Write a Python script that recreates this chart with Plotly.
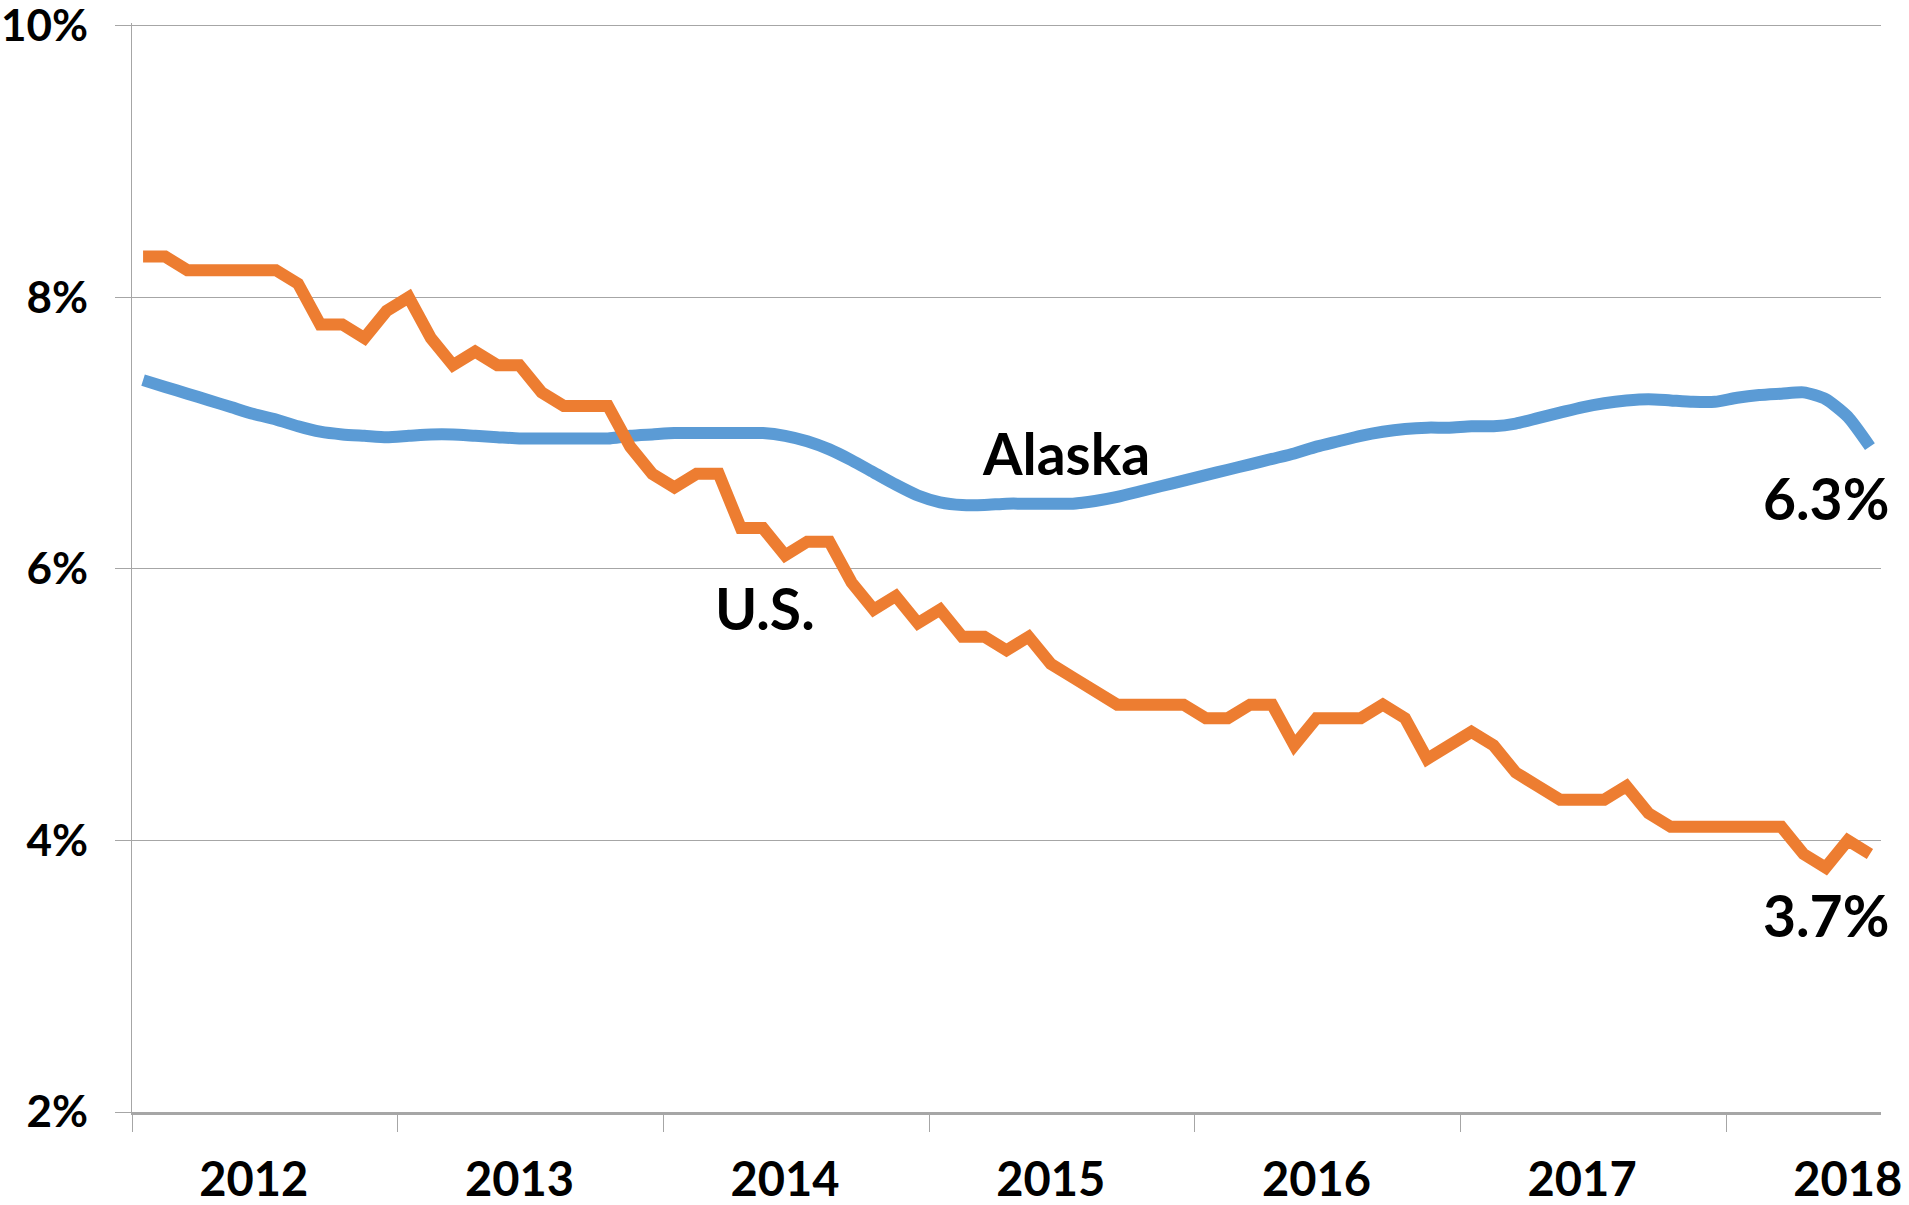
import plotly.graph_objects as go

# Monthly series, Jan 2012 .. Jul 2018 (79 months)
months = list(range(79))
us_rate = [
    8.3, 8.3, 8.2, 8.2, 8.2, 8.2, 8.2, 8.1, 7.8, 7.8, 7.7, 7.9,
    8.0, 7.7, 7.5, 7.6, 7.5, 7.5, 7.3, 7.2, 7.2, 7.2, 6.9, 6.7,
    6.6, 6.7, 6.7, 6.3, 6.3, 6.1, 6.2, 6.2, 5.9, 5.7, 5.8, 5.6,
    5.7, 5.5, 5.5, 5.4, 5.5, 5.3, 5.2, 5.1, 5.0, 5.0, 5.0, 5.0,
    4.9, 4.9, 5.0, 5.0, 4.7, 4.9, 4.9, 4.9, 5.0, 4.9, 4.6, 4.7,
    4.8, 4.7, 4.5, 4.4, 4.3, 4.3, 4.3, 4.4, 4.2, 4.1, 4.1, 4.1,
    4.1, 4.1, 4.1, 3.9, 3.8, 4.0, 3.9,
]
alaska_rate = [
    7.39, 7.34, 7.29, 7.24, 7.19, 7.14, 7.10, 7.05, 7.01, 6.99, 6.98, 6.97,
    6.98, 6.99, 6.99, 6.98, 6.97, 6.96, 6.96, 6.96, 6.96, 6.96, 6.98, 6.99,
    7.00, 7.00, 7.00, 7.00, 7.00, 6.98, 6.94, 6.88, 6.80, 6.71, 6.62, 6.54,
    6.49, 6.47, 6.47, 6.48, 6.48, 6.48, 6.48, 6.50, 6.53, 6.57, 6.61, 6.65,
    6.69, 6.73, 6.77, 6.81, 6.85, 6.90, 6.94, 6.98, 7.01, 7.03, 7.04, 7.04,
    7.05, 7.05, 7.07, 7.11, 7.15, 7.19, 7.22, 7.24, 7.25, 7.24, 7.23, 7.23,
    7.26, 7.28, 7.29, 7.30, 7.25, 7.12, 6.90,
]
year_labels = ["2012", "2013", "2014", "2015", "2016", "2017", "2018"]
year_label_pos = [5, 17, 29, 41, 53, 65, 77]          # June of each year
year_boundaries = [-0.5, 11.5, 23.5, 35.5, 47.5, 59.5, 71.5]
y_ticks = [2, 4, 6, 8, 10]
y_tick_labels = ["2%", "4%", "6%", "8%", "10%"]

FONT = "Lato"
GRID = "#A6A6A6"

fig = go.Figure()
fig.add_trace(go.Scatter(
    x=months, y=alaska_rate, mode="lines", name="Alaska",
    line=dict(color="#5B9BD5", width=12, shape="spline", smoothing=0.6),
))
fig.add_trace(go.Scatter(
    x=months, y=us_rate, mode="lines", name="U.S.",
    line=dict(color="#ED7D31", width=12),
))

ann_font = dict(family=FONT, size=57, color="black", weight="bold")
fig.add_annotation(x=41.67, y=6.85, text="Alaska", showarrow=False,
                   xanchor="center", yanchor="middle", font=ann_font)
fig.add_annotation(x=28.08, y=5.71, text="U.S.", showarrow=False,
                   xanchor="center", yanchor="middle", font=ann_font)
fig.add_annotation(x=1.006, xref="paper", y=6.52, text="6.3%", showarrow=False,
                   xanchor="right", yanchor="middle", font=ann_font)
fig.add_annotation(x=1.006, xref="paper", y=3.45, text="3.7%", showarrow=False,
                   xanchor="right", yanchor="middle", font=ann_font)

fig.update_layout(
    width=1909, height=1205,
    margin=dict(l=132, r=28, t=23, b=93),
    paper_bgcolor="white", plot_bgcolor="white",
    showlegend=False,
    xaxis=dict(
        range=[-0.5, 78.5], automargin=False,
        tickmode="array", tickvals=year_label_pos, ticktext=year_labels,
        ticks="", showgrid=False, zeroline=False,
        showline=True, linecolor=GRID, linewidth=2.5,
        tickfont=dict(family=FONT, size=47, color="black", weight="bold"),
        ticklabelstandoff=25, ticklabeloverflow="allow",
        minor=dict(tickmode="array", tickvals=year_boundaries, ticks="outside",
                   ticklen=17, tickcolor=GRID, tickwidth=1.3, showgrid=False),
    ),
    yaxis=dict(
        range=[2, 10.02], automargin=False,
        tickmode="array", tickvals=y_ticks, ticktext=y_tick_labels,
        showgrid=True, gridcolor=GRID, gridwidth=1.3, zeroline=False,
        showline=True, linecolor=GRID, linewidth=1.3,
        ticks="outside", ticklen=16, tickcolor=GRID, tickwidth=1.3,
        tickfont=dict(family=FONT, size=44, color="black", weight="bold"),
        ticklabelstandoff=18, ticklabeloverflow="allow",
    ),
)

fig.write_html(
    "out.html",
    config={"displayModeBar": False},
    post_script="document.body.style.margin='0';document.body.style.overflow='hidden';",
)
